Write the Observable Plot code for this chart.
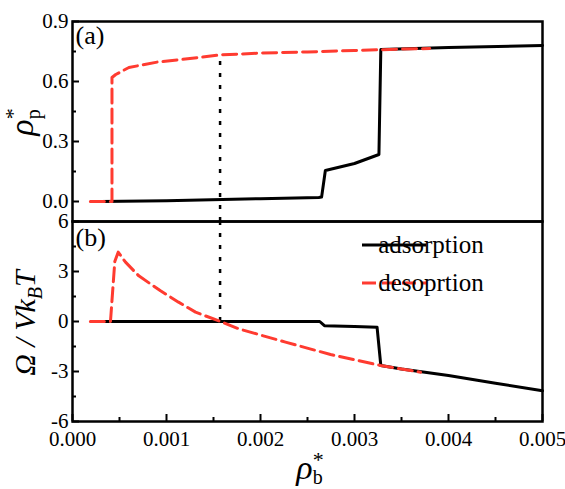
<!DOCTYPE html>
<html><head><meta charset="utf-8">
<script src="https://cdn.jsdelivr.net/npm/d3@7"></script>
<script src="https://cdn.jsdelivr.net/npm/@observablehq/plot@0.6"></script>
<style>
body{margin:0;background:#fff;}
#chart{position:relative;width:565px;height:489px;font-family:"Liberation Serif","DejaVu Serif",serif;}
#chart svg{display:block;}
#overlay{position:absolute;left:0;top:0;pointer-events:none;}
</style></head><body><div id="chart"></div>
<script>
const FONT = "Liberation Serif, DejaVu Serif, serif";
const RED = "#ff3b30";

// axes
const xDomain = [0, 0.005];
const xTicks = [0, 0.001, 0.002, 0.003, 0.004, 0.005];
const xMinorTicks = [0.0005, 0.0015, 0.0025, 0.0035, 0.0045];
const yDomainA = [-0.1, 0.9];
const yTicksA = [0, 0.3, 0.6, 0.9];
const yMinorA = [0.15, 0.45, 0.75];
const yDomainB = [-6, 6];
const yTicksB = [-6, -3, 0, 3, 6];
const yMinorB = [-4.5, -1.5, 1.5, 4.5];

// panel (a): rho_p* vs rho_b*
const adsXa = [0.0003, 0.0010, 0.0020, 0.00262, 0.00265, 0.00269, 0.0030, 0.00326, 0.00328, 0.0040, 0.0050];
const adsYa = [0.0, 0.004, 0.014, 0.02, 0.022, 0.155, 0.19, 0.235, 0.76, 0.77, 0.78];
const desXa = [0.00019, 0.00042, 0.00042, 0.00046, 0.0006, 0.0009, 0.0012, 0.00157, 0.002, 0.0025, 0.003, 0.0035, 0.0038];
const desYa = [0.0, 0.0, 0.62, 0.635, 0.67, 0.697, 0.712, 0.733, 0.742, 0.748, 0.755, 0.762, 0.765];

// panel (b): Omega / V k_B T vs rho_b*
const adsXb = [0.0003, 0.0010, 0.0020, 0.00263, 0.00268, 0.0030, 0.00324, 0.00328, 0.0035, 0.0040, 0.0045, 0.0050];
const adsYb = [0.0, 0.0, 0.0, 0.0, -0.25, -0.3, -0.34, -2.64, -2.85, -3.24, -3.7, -4.15];
const desXb = [0.00019, 0.000404, 0.00045, 0.000486, 0.000564, 0.000705, 0.000936, 0.001128, 0.001309, 0.001574, 0.001769, 0.002018, 0.002266, 0.002745, 0.003277, 0.003702];
const desYb = [0.0, 0.0, 3.6, 4.16, 3.56, 2.74, 1.84, 1.16, 0.56, 0.0, -0.44, -0.84, -1.24, -1.98, -2.64, -3.04];

// dotted marker
const crossX = 0.00157;
const crossTopA = 0.733;
const crossBottomB = 0;

const seriesNames = ["adsorption", "desoprtion"];
const panelLabels = ["(a)", "(b)"];

const rows = (xs, ys) => xs.map((x, i) => ({x, y: ys[i]}));

const W = 565, ML = 72, MR = 23;
const innerW = W - ML - MR;
const innerH = 200;
const styleBase = {fontFamily: FONT, fontSize: "21px", color: "#000", background: "transparent", overflow: "visible"};
const dash = "14,6";
const dotted = "4,8";

const plotA = Plot.plot({
  width: W, height: 221, marginTop: 21, marginBottom: 0, marginLeft: ML, marginRight: MR,
  x: {domain: xDomain, axis: null},
  y: {domain: yDomainA, axis: null},
  style: styleBase,
  marks: [
    Plot.ruleY(yTicksA, {insetRight: innerW - 7, stroke: "black", strokeWidth: 2}),
    Plot.ruleY(yMinorA, {insetRight: innerW - 4, stroke: "black", strokeWidth: 2}),
    Plot.axisY(yTicksA, {tickSize: 0, tickPadding: 4, tickFormat: d => d.toFixed(1), fontSize: 21, fontFamily: FONT, label: null}),
    Plot.ruleX([{x: crossX, y1: yDomainA[0], y2: crossTopA}], {x: "x", y1: "y1", y2: "y2", stroke: "black", strokeWidth: 2.5, strokeDasharray: dotted}),
    Plot.line(rows(adsXa, adsYa), {x: "x", y: "y", stroke: "black", strokeWidth: 3}),
    Plot.line(rows(desXa, desYa), {x: "x", y: "y", stroke: RED, strokeWidth: 3, strokeDasharray: dash}),
    Plot.text([panelLabels[0]], {frameAnchor: "top-left", dx: 3, dy: 4, lineAnchor: "top", textAnchor: "start", fontSize: 26, fontFamily: FONT}),
    Plot.frame({stroke: "black", strokeWidth: 2.5})
  ]
});

const plotB = Plot.plot({
  width: W, height: 268, marginTop: 0, marginBottom: 68, marginLeft: ML, marginRight: MR,
  x: {domain: xDomain, axis: null},
  y: {domain: yDomainB, axis: null},
  style: styleBase,
  marks: [
    Plot.ruleY(yTicksB, {insetRight: innerW - 7, stroke: "black", strokeWidth: 2}),
    Plot.ruleY(yMinorB, {insetRight: innerW - 4, stroke: "black", strokeWidth: 2}),
    Plot.ruleX(xTicks, {insetTop: innerH - 7, stroke: "black", strokeWidth: 2}),
    Plot.ruleX(xMinorTicks, {insetTop: innerH - 4, stroke: "black", strokeWidth: 2}),
    Plot.axisY(yTicksB, {tickSize: 0, tickPadding: 4, tickFormat: d => String(d), fontSize: 21, fontFamily: FONT, label: null}),
    Plot.axisX(xTicks, {tickSize: 0, tickPadding: 10, tickFormat: d => d.toFixed(3), fontSize: 21, fontFamily: FONT, label: null}),
    Plot.ruleX([{x: crossX, y1: crossBottomB, y2: yDomainB[1]}], {x: "x", y1: "y1", y2: "y2", stroke: "black", strokeWidth: 2.5, strokeDasharray: dotted}),
    Plot.line(rows(adsXb, adsYb), {x: "x", y: "y", stroke: "black", strokeWidth: 3}),
    Plot.line(rows(desXb, desYb), {x: "x", y: "y", stroke: RED, strokeWidth: 3, strokeDasharray: dash}),
    Plot.text([panelLabels[1]], {frameAnchor: "top-left", dx: 3, dy: 6, lineAnchor: "top", textAnchor: "start", fontSize: 26, fontFamily: FONT}),
    Plot.frame({stroke: "black", strokeWidth: 2.5})
  ]
});

// legend inside panel (b)
const lg = d3.select(plotB).append("g").attr("font-family", FONT).attr("font-size", 25);
const legendStyles = [{stroke: "black", dash: null}, {stroke: RED, dash: dash}];
seriesNames.forEach((name, i) => {
  const y = 24 + i * 38;
  lg.append("line").attr("x1", 362).attr("x2", 426).attr("y1", y).attr("y2", y)
    .attr("stroke", legendStyles[i].stroke).attr("stroke-width", 3)
    .attr("stroke-dasharray", legendStyles[i].dash);
  lg.append("text").attr("x", 431).attr("y", y + 8).attr("fill", "black").text(name);
});

const chart = document.getElementById("chart");
chart.appendChild(plotA);
chart.appendChild(plotB);

// axis titles
const ov = d3.select(chart).append("svg").attr("id", "overlay")
  .attr("width", W).attr("height", 489).attr("font-family", FONT).attr("fill", "black");

// rho_p*
const t1 = ov.append("text").attr("transform", "translate(33,122) rotate(-90)").attr("text-anchor", "middle").attr("font-size", 34);
t1.append("tspan").attr("font-style", "italic").text("ρ");
t1.append("tspan").attr("font-size", 20).attr("dy", 7).text("p");
t1.append("tspan").attr("font-size", 22).attr("dx", -10).attr("dy", -20).text("*");

// Omega / V k_B T
const t2 = ov.append("text").attr("transform", "translate(35,323) rotate(-90)").attr("text-anchor", "middle").attr("font-size", 30).attr("font-style", "italic");
t2.append("tspan").text("Ω / Vk");
t2.append("tspan").attr("font-size", 20).attr("dy", 7).text("B");
t2.append("tspan").attr("dy", -7).text("T");

// rho_b*
const t3 = ov.append("text").attr("x", 310).attr("y", 479).attr("text-anchor", "middle").attr("font-size", 34);
t3.append("tspan").attr("font-style", "italic").text("ρ");
t3.append("tspan").attr("font-size", 20).attr("dy", 5).text("b");
t3.append("tspan").attr("font-size", 22).attr("dx", -10).attr("dy", -17).text("*");
</script>
</body></html>
